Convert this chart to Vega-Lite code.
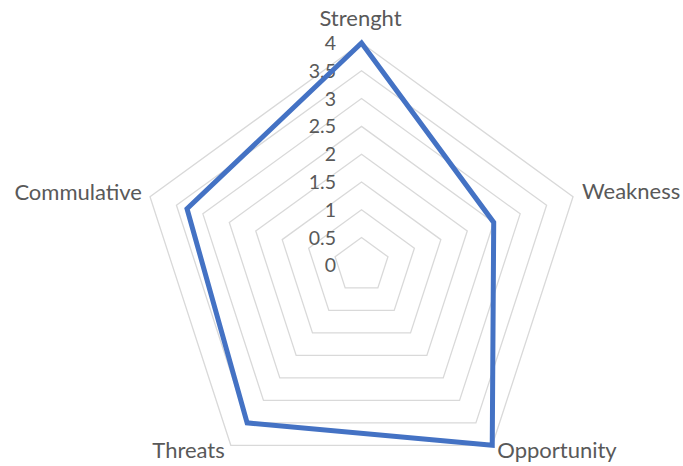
{
  "$schema": "https://vega.github.io/schema/vega-lite/v6.json",
  "width": 683,
  "height": 466,
  "autosize": "none",
  "padding": 0,
  "background": "white",
  "config": {"view": {"stroke": null}},
  "datasets": {
    "series": [
      {"axis": "Strenght", "value": 4},
      {"axis": "Weakness", "value": 2.5},
      {"axis": "Opportunity", "value": 4},
      {"axis": "Threats", "value": 3.5},
      {"axis": "Commulative", "value": 3.3}
    ],
    "grid": [
      {"level": 0.5, "axis": "Strenght"}, {"level": 0.5, "axis": "Weakness"}, {"level": 0.5, "axis": "Opportunity"}, {"level": 0.5, "axis": "Threats"}, {"level": 0.5, "axis": "Commulative"},
      {"level": 1, "axis": "Strenght"}, {"level": 1, "axis": "Weakness"}, {"level": 1, "axis": "Opportunity"}, {"level": 1, "axis": "Threats"}, {"level": 1, "axis": "Commulative"},
      {"level": 1.5, "axis": "Strenght"}, {"level": 1.5, "axis": "Weakness"}, {"level": 1.5, "axis": "Opportunity"}, {"level": 1.5, "axis": "Threats"}, {"level": 1.5, "axis": "Commulative"},
      {"level": 2, "axis": "Strenght"}, {"level": 2, "axis": "Weakness"}, {"level": 2, "axis": "Opportunity"}, {"level": 2, "axis": "Threats"}, {"level": 2, "axis": "Commulative"},
      {"level": 2.5, "axis": "Strenght"}, {"level": 2.5, "axis": "Weakness"}, {"level": 2.5, "axis": "Opportunity"}, {"level": 2.5, "axis": "Threats"}, {"level": 2.5, "axis": "Commulative"},
      {"level": 3, "axis": "Strenght"}, {"level": 3, "axis": "Weakness"}, {"level": 3, "axis": "Opportunity"}, {"level": 3, "axis": "Threats"}, {"level": 3, "axis": "Commulative"},
      {"level": 3.5, "axis": "Strenght"}, {"level": 3.5, "axis": "Weakness"}, {"level": 3.5, "axis": "Opportunity"}, {"level": 3.5, "axis": "Threats"}, {"level": 3.5, "axis": "Commulative"},
      {"level": 4, "axis": "Strenght"}, {"level": 4, "axis": "Weakness"}, {"level": 4, "axis": "Opportunity"}, {"level": 4, "axis": "Threats"}, {"level": 4, "axis": "Commulative"}
    ],
    "ticks": [
      {"level": 0}, {"level": 0.5}, {"level": 1}, {"level": 1.5}, {"level": 2},
      {"level": 2.5}, {"level": 3}, {"level": 3.5}, {"level": 4}
    ]
  },
  "layer": [
    {
      "data": {"name": "grid"},
      "transform": [
        {"calculate": "indexof(['Strenght','Weakness','Opportunity','Threats','Commulative'], datum.axis)", "as": "k"},
        {"calculate": "datum.level * sin(datum.k * 2 * PI / 5)", "as": "px"},
        {"calculate": "datum.level * cos(datum.k * 2 * PI / 5)", "as": "py"}
      ],
      "mark": {"type": "line", "interpolate": "linear-closed", "stroke": "#d9d9d9", "strokeWidth": 1.3},
      "encoding": {
        "x": {"field": "px", "type": "quantitative", "scale": {"domain": [-6.502, 5.782], "nice": false, "zero": false}, "axis": null},
        "y": {"field": "py", "type": "quantitative", "scale": {"domain": [-3.608, 4.773], "nice": false, "zero": false}, "axis": null},
        "detail": {"field": "level", "type": "nominal"},
        "order": {"field": "k", "type": "quantitative"}
      }
    },
    {
      "data": {"name": "ticks"},
      "transform": [
        {"calculate": "0", "as": "px"},
        {"calculate": "datum.level", "as": "py"}
      ],
      "mark": {"type": "text", "align": "right", "baseline": "middle", "dx": -25.5, "dy": 1, "font": "Lato", "fontSize": 19.5, "color": "#595959"},
      "encoding": {
        "x": {"field": "px", "type": "quantitative"},
        "y": {"field": "py", "type": "quantitative"},
        "text": {"field": "level", "type": "quantitative"}
      }
    },
    {
      "data": {"name": "series"},
      "transform": [
        {"calculate": "indexof(['Strenght','Weakness','Opportunity','Threats','Commulative'], datum.axis)", "as": "k"},
        {"calculate": "datum.value * sin(datum.k * 2 * PI / 5)", "as": "px"},
        {"calculate": "datum.value * cos(datum.k * 2 * PI / 5)", "as": "py"}
      ],
      "mark": {"type": "line", "interpolate": "linear-closed", "stroke": "#4472C4", "strokeWidth": 5, "strokeJoin": "miter"},
      "encoding": {
        "x": {"field": "px", "type": "quantitative"},
        "y": {"field": "py", "type": "quantitative"},
        "order": {"field": "k", "type": "quantitative"}
      }
    },
    {
      "data": {"name": "grid"},
      "transform": [
        {"filter": "datum.level == 4 && datum.axis == 'Strenght'"},
        {"calculate": "0", "as": "px"},
        {"calculate": "datum.level", "as": "py"}
      ],
      "mark": {"type": "text", "align": "center", "baseline": "alphabetic", "dx": -1, "dy": -17, "font": "Lato", "fontSize": 22, "color": "#595959"},
      "encoding": {
        "x": {"field": "px", "type": "quantitative"},
        "y": {"field": "py", "type": "quantitative"},
        "text": {"field": "axis", "type": "nominal"}
      }
    },
    {
      "data": {"name": "grid"},
      "transform": [
        {"filter": "datum.level == 4 && datum.axis == 'Weakness'"},
        {"calculate": "datum.level * sin(2 * PI / 5)", "as": "px"},
        {"calculate": "datum.level * cos(2 * PI / 5)", "as": "py"}
      ],
      "mark": {"type": "text", "align": "left", "baseline": "alphabetic", "dx": 9, "dy": 2, "font": "Lato", "fontSize": 22, "color": "#595959"},
      "encoding": {
        "x": {"field": "px", "type": "quantitative"},
        "y": {"field": "py", "type": "quantitative"},
        "text": {"field": "axis", "type": "nominal"}
      }
    },
    {
      "data": {"name": "grid"},
      "transform": [
        {"filter": "datum.level == 4 && datum.axis == 'Opportunity'"},
        {"calculate": "datum.level * sin(4 * PI / 5)", "as": "px"},
        {"calculate": "datum.level * cos(4 * PI / 5)", "as": "py"}
      ],
      "mark": {"type": "text", "align": "left", "baseline": "alphabetic", "dx": 5, "dy": 13, "font": "Lato", "fontSize": 22, "color": "#595959"},
      "encoding": {
        "x": {"field": "px", "type": "quantitative"},
        "y": {"field": "py", "type": "quantitative"},
        "text": {"field": "axis", "type": "nominal"}
      }
    },
    {
      "data": {"name": "grid"},
      "transform": [
        {"filter": "datum.level == 4 && datum.axis == 'Threats'"},
        {"calculate": "datum.level * sin(6 * PI / 5)", "as": "px"},
        {"calculate": "datum.level * cos(6 * PI / 5)", "as": "py"}
      ],
      "mark": {"type": "text", "align": "right", "baseline": "alphabetic", "dx": -6, "dy": 13, "font": "Lato", "fontSize": 22, "color": "#595959"},
      "encoding": {
        "x": {"field": "px", "type": "quantitative"},
        "y": {"field": "py", "type": "quantitative"},
        "text": {"field": "axis", "type": "nominal"}
      }
    },
    {
      "data": {"name": "grid"},
      "transform": [
        {"filter": "datum.level == 4 && datum.axis == 'Commulative'"},
        {"calculate": "datum.level * sin(8 * PI / 5)", "as": "px"},
        {"calculate": "datum.level * cos(8 * PI / 5)", "as": "py"}
      ],
      "mark": {"type": "text", "align": "right", "baseline": "alphabetic", "dx": -8, "dy": 3, "font": "Lato", "fontSize": 22, "color": "#595959"},
      "encoding": {
        "x": {"field": "px", "type": "quantitative"},
        "y": {"field": "py", "type": "quantitative"},
        "text": {"field": "axis", "type": "nominal"}
      }
    }
  ]
}
